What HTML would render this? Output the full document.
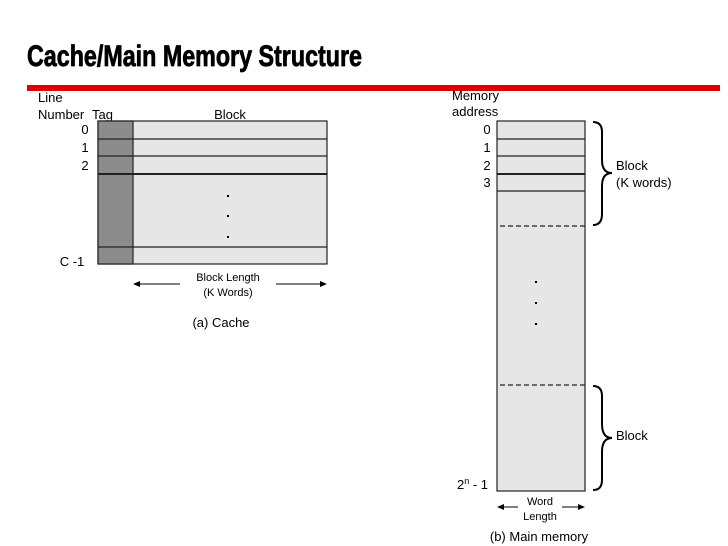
<!DOCTYPE html>
<html><head><meta charset="utf-8"><style>
body{margin:0;background:#fff;}
svg{display:block;font-family:"Liberation Sans",Arial,sans-serif;}
</style></head><body>
<svg width="728" height="546" viewBox="0 0 728 546" xmlns="http://www.w3.org/2000/svg">
<text x="27" y="66" font-size="30" font-weight="bold" stroke="#000" stroke-width="0.8" textLength="335" lengthAdjust="spacingAndGlyphs">Cache/Main Memory Structure</text>
<rect x="27" y="85" width="693" height="6" fill="#e00000"/>
<g font-size="13" fill="#000">
<text x="38" y="102">Line</text>
<text x="38" y="119">Number</text>
<text x="92" y="119" text-anchor="start">Tag</text>
<text x="230" y="119" text-anchor="middle">Block</text>
<text x="85" y="134" text-anchor="middle">0</text>
<text x="85" y="152" text-anchor="middle">1</text>
<text x="85" y="170" text-anchor="middle">2</text>
<text x="72" y="266" text-anchor="middle">C -1</text>
</g>
<rect x="98" y="121" width="229" height="143" fill="#e6e6e6" stroke="#222" stroke-width="1.2"/>
<rect x="98" y="121" width="35" height="143" fill="#8c8c8c" stroke="#222" stroke-width="1.2"/>
<g stroke="#222" stroke-width="1.2">
<line x1="98" y1="139" x2="327" y2="139"/>
<line x1="98" y1="156" x2="327" y2="156"/>
<line x1="98" y1="174" x2="327" y2="174" stroke-width="2"/>
<line x1="98" y1="247" x2="327" y2="247"/>
</g>
<g fill="#000"><rect x="227" y="195" width="2" height="2"/><rect x="227" y="215" width="2" height="2"/><rect x="227" y="236" width="2" height="2"/></g>
<line x1="138" y1="284" x2="180" y2="284" stroke="#000"/>
<line x1="276" y1="284" x2="322" y2="284" stroke="#000"/>
<polygon points="133,284 140,281 140,287" fill="#000"/>
<polygon points="327,284 320,281 320,287" fill="#000"/>
<g font-size="11" text-anchor="middle">
<text x="228" y="281">Block Length</text>
<text x="228" y="296">(K Words)</text>
</g>
<text x="221" y="327" font-size="13" text-anchor="middle">(a) Cache</text>

<g font-size="13">
<text x="452" y="100">Memory</text>
<text x="452" y="116">address</text>
<text x="487" y="134" text-anchor="middle">0</text>
<text x="487" y="152" text-anchor="middle">1</text>
<text x="487" y="170" text-anchor="middle">2</text>
<text x="487" y="187" text-anchor="middle">3</text>
<text x="457" y="489">2<tspan font-size="9" dy="-5">n</tspan><tspan dy="5"> - 1</tspan></text>
<text x="616" y="170">Block</text>
<text x="616" y="187">(K words)</text>
<text x="616" y="440">Block</text>
</g>
<rect x="497" y="121" width="88" height="370" fill="#e6e6e6" stroke="#222" stroke-width="1.2"/>
<g stroke="#222" stroke-width="1.2">
<line x1="497" y1="139" x2="585" y2="139"/>
<line x1="497" y1="156" x2="585" y2="156"/>
<line x1="497" y1="174" x2="585" y2="174" stroke-width="2"/>
<line x1="497" y1="191" x2="585" y2="191"/>
<line x1="500" y1="226" x2="585" y2="226" stroke-dasharray="5,3"/>
<line x1="500" y1="385" x2="585" y2="385" stroke-dasharray="5,3"/>
</g>
<g fill="#000"><rect x="535" y="281" width="2" height="2"/><rect x="535" y="302" width="2" height="2"/><rect x="535" y="323" width="2" height="2"/></g>
<g fill="none" stroke="#000" stroke-width="2">
<path d="M593,122 Q602,122 602,132 L602,160 Q602,173 612,173 Q602,173 602,186 L602,214 Q602,225 593,225"/>
<path d="M593,386 Q602,386 602,396 L602,424 Q602,438 612,438 Q602,438 602,452 L602,480 Q602,490 593,490"/>
</g>
<line x1="502" y1="507" x2="518" y2="507" stroke="#000"/>
<line x1="562" y1="507" x2="580" y2="507" stroke="#000"/>
<polygon points="497,507 504,504 504,510" fill="#000"/>
<polygon points="585,507 578,504 578,510" fill="#000"/>
<g font-size="11" text-anchor="middle">
<text x="540" y="505">Word</text>
<text x="540" y="520">Length</text>
</g>
<text x="539" y="541" font-size="13" text-anchor="middle">(b) Main memory</text>
</svg>
</body></html>
